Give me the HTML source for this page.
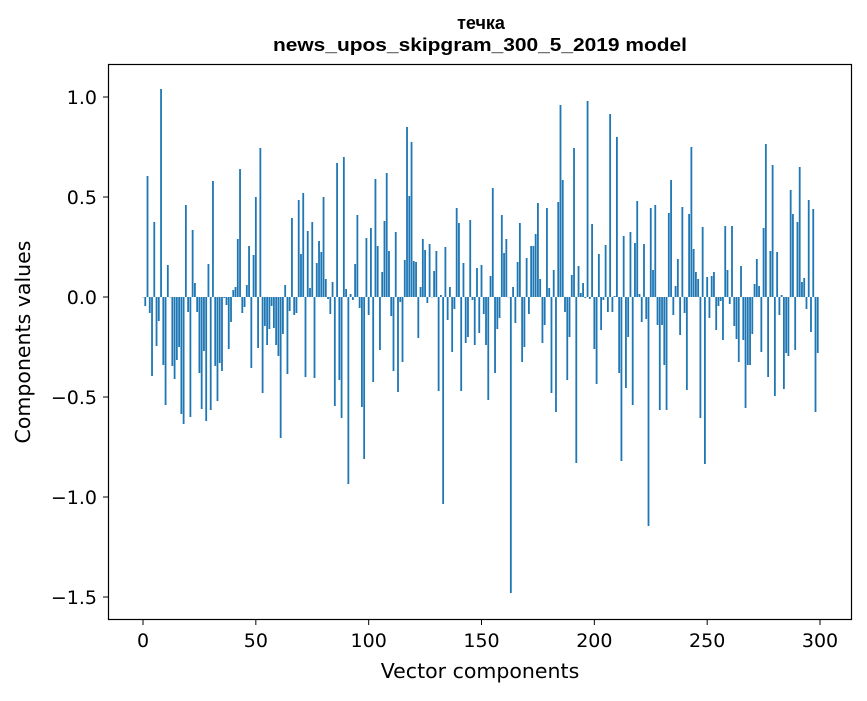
<!DOCTYPE html>
<html><head><meta charset="utf-8"><style>
html,body{margin:0;padding:0;background:#fff;}
svg text{font-family:"DejaVu Sans","Liberation Sans",sans-serif;}
svg text.title{font-family:"Liberation Sans","DejaVu Sans",sans-serif;}
</style></head><body>
<svg id="chart" width="867" height="696" xmlns="http://www.w3.org/2000/svg">
<rect x="0" y="0" width="867" height="696" fill="#fff"/>
<text class="title" x="481" y="29" text-anchor="middle" font-size="18" font-weight="bold">течка</text>
<text class="title" x="480" y="51" text-anchor="middle" font-size="18" font-weight="bold" textLength="414" lengthAdjust="spacingAndGlyphs">news_upos_skipgram_300_5_2019 model</text>
<g id="bars"></g>
<g id="axes"></g>
<rect x="108.5" y="64.5" width="743" height="555" fill="none" stroke="#000" stroke-width="1.2"/>
<text x="480" y="678" text-anchor="middle" font-size="20.5">Vector components</text>
<text transform="translate(30,342) rotate(-90)" text-anchor="middle" font-size="20.5">Components values</text>
</svg>
<script>
const values = [
0,-0.045,0.605,-0.08,-0.395,0.375,-0.245,-0.12,1.04,-0.34,-0.54,0.16,0,-0.345,-0.41,-0.315,-0.25,-0.585,-0.635,0.46,-0.075,-0.6,0.335,0.07,-0.075,-0.38,-0.56,-0.27,-0.62,0.165,-0.565,0.58,-0.345,-0.52,-0.33,-0.37,-0.005,-0.04,-0.26,-0.125,0.035,0.05,0.29,0.64,-0.08,-0.05,0.06,0.255,-0.355,0.21,0.5,-0.255,0.745,-0.48,-0.145,-0.24,-0.16,-0.045,-0.155,-0.24,-0.295,-0.705,-0.185,0.06,-0.385,-0.07,0.395,-0.09,-0.08,0.485,0.215,0.52,-0.4,0.33,0.045,0.375,
-0.405,0.17,0.28,0.225,0.5,0.09,-0.01,-0.085,0.075,-0.545,0.67,-0.415,-0.605,0.7,0.04,-0.935,0.015,-0.015,0.165,0.41,-0.055,-0.55,-0.81,0.295,-0.09,0.345,-0.425,0.59,0.255,-0.265,0.125,0.38,0.62,0.23,-0.095,-0.37,0.325,-0.475,-0.025,-0.325,0.185,0.85,0.505,0.775,0.18,0.175,-0.205,0.05,0.29,0.235,-0.03,0.265,0,0.13,0.23,-0.47,0.01,-1.035,0.25,-0.115,0.05,-0.275,-0.06,0.445,0.37,-0.47,0.17,-0.23,-0.2,0.385,-0.015,-0.24,0.145,-0.18,0.16,
-0.085,-0.24,-0.515,0.105,0.545,-0.38,-0.16,-0.105,0.41,0.22,0.29,0,-1.48,0.05,-0.13,0.175,0.37,-0.325,-0.25,0.195,-0.085,0.255,0.255,0.315,0.47,0.09,-0.23,-0.14,0.445,0.045,-0.48,0.135,-0.575,0.475,0.96,0.585,-0.075,-0.415,-0.2,0.11,0.745,-0.83,0.155,0.02,0.07,-0.005,0.98,-0.01,0.365,-0.26,-0.435,0.215,-0.165,-0.015,0.26,-0.075,0.915,-0.075,0.005,0.8,-0.38,-0.82,0.305,-0.455,-0.2,0.325,-0.54,0.27,0.48,0.015,-0.125,0.265,-0.11,-1.145,
0.445,0.135,0.46,-0.14,-0.565,-0.14,-0.34,-0.565,0.42,0.585,-0.09,0.055,0.19,-0.19,0.45,-0.08,-0.465,0.415,0.75,0.24,0.125,0.09,-0.605,0.35,-0.835,0.1,-0.105,0.105,0.125,-0.165,-0.045,-0.02,-0.215,0.355,0.135,-0.035,0.355,-0.145,-0.21,-0.325,0.155,-0.215,-0.555,-0.34,-0.34,-0.185,0.065,0.19,0.055,-0.275,0.345,0.765,-0.4,0.23,0.66,-0.495,0.225,-0.09,0.01,-0.46,-0.28,-0.295,0.535,0.415,-0.265,0.375,0.65,0.075,0.095,-0.06,0.485,-0.175,0.44,-0.575,-0.28
];
const xTicks = [0,50,100,150,200,250,300];
const yTicks = [-1.5,-1.0,-0.5,0.0,0.5,1.0];
const yTickLabels = ["\u22121.5","\u22121.0","\u22120.5","0.0","0.5","1.0"];

const NS = "http://www.w3.org/2000/svg";
function xScale(v){ return 143 + v * 2.2567; }
function yScale(v){ return 297 - v * 200; }
const barW = 0.8 * 2.2567;
const gb = document.getElementById('bars');
values.forEach(function(v, i){
  const r = document.createElementNS(NS, 'rect');
  const y0 = yScale(0), y1 = yScale(v);
  r.setAttribute('x', xScale(i) - barW/2);
  r.setAttribute('y', Math.min(y0, y1));
  r.setAttribute('width', barW);
  r.setAttribute('height', Math.max(Math.abs(y1 - y0), 0.3));
  r.setAttribute('fill', '#1f77b4');
  
  
  gb.appendChild(r);
});
const ga = document.getElementById('axes');
xTicks.forEach(function(t){
  const x = xScale(t);
  const l = document.createElementNS(NS, 'line');
  l.setAttribute('x1', x); l.setAttribute('x2', x);
  l.setAttribute('y1', 620); l.setAttribute('y2', 625);
  l.setAttribute('stroke', '#000');
  
  
  ga.appendChild(l);
  const tx = document.createElementNS(NS, 'text');
  tx.setAttribute('x', x); tx.setAttribute('y', 647);
  tx.setAttribute('text-anchor', 'middle'); tx.setAttribute('font-size', '19');
  tx.textContent = String(t);
  
  
  ga.appendChild(tx);
});
yTicks.forEach(function(t, i){
  const y = yScale(t);
  const l = document.createElementNS(NS, 'line');
  l.setAttribute('x1', 103); l.setAttribute('x2', 108);
  l.setAttribute('y1', y); l.setAttribute('y2', y);
  l.setAttribute('stroke', '#000');
  
  
  ga.appendChild(l);
  const tx = document.createElementNS(NS, 'text');
  tx.setAttribute('x', 97); tx.setAttribute('y', y + 7);
  tx.setAttribute('text-anchor', 'end'); tx.setAttribute('font-size', '19');
  tx.textContent = yTickLabels[i];
  
  
  ga.appendChild(tx);
});
</script>
</body></html>
